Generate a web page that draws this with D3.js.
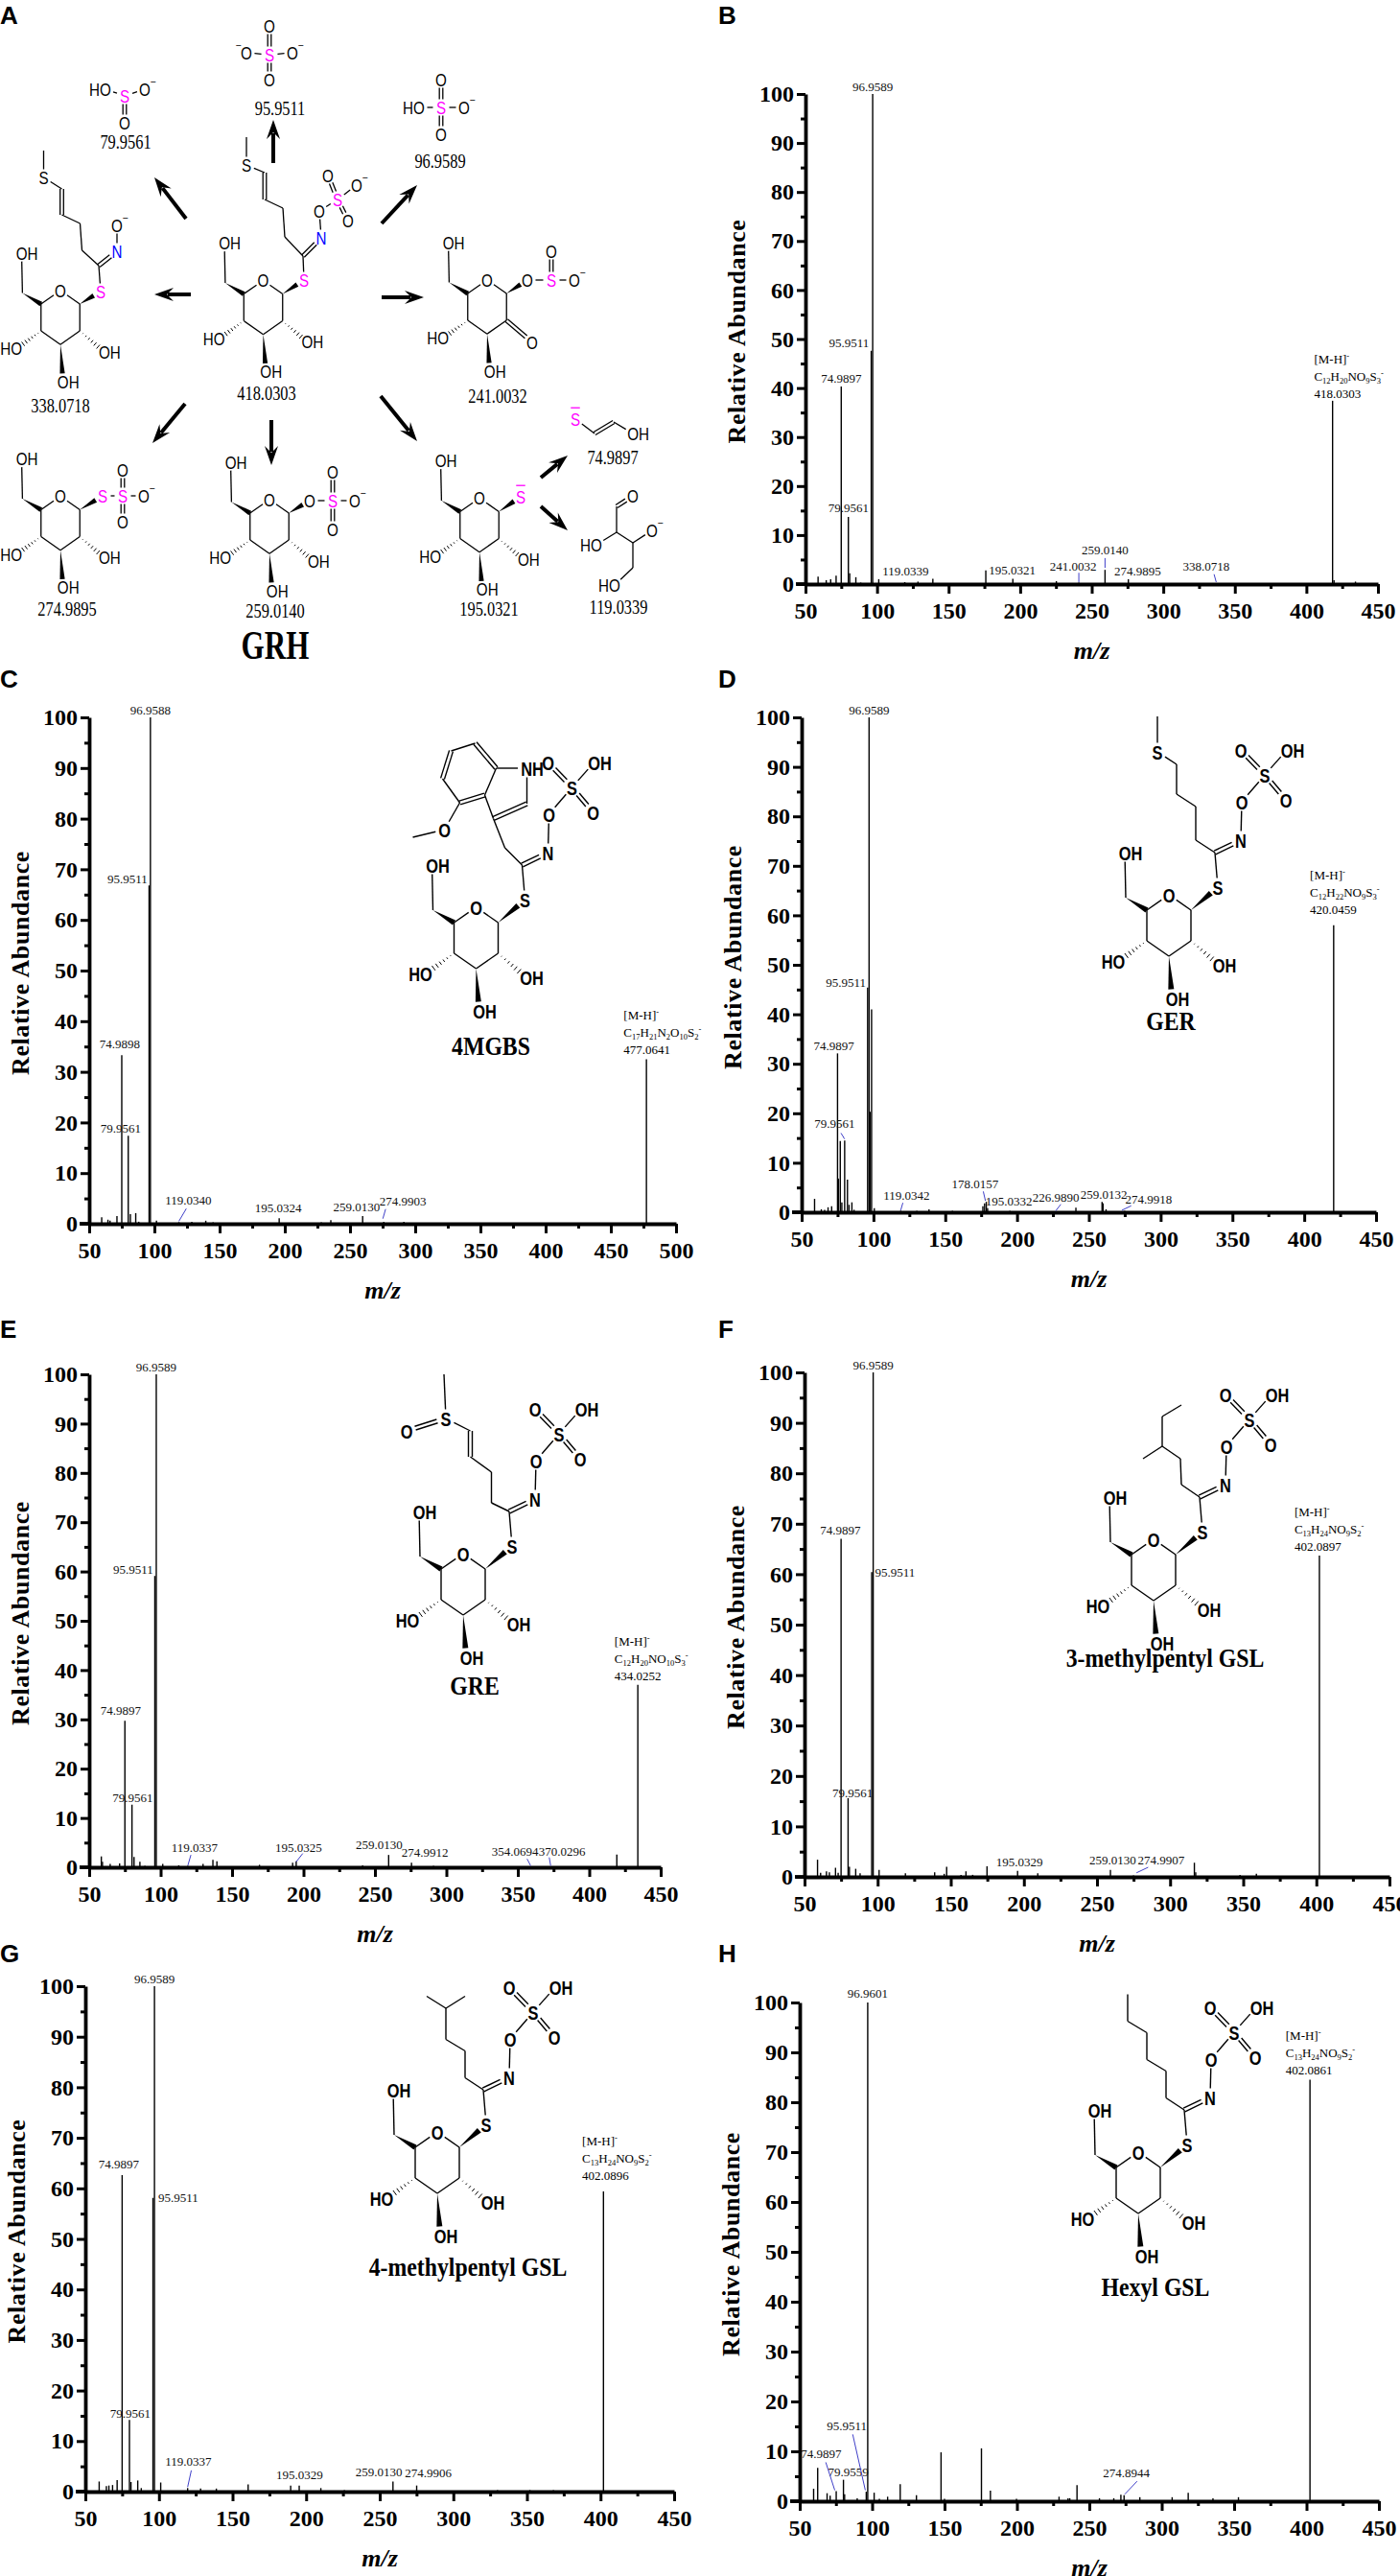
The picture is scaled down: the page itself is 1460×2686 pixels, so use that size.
<!DOCTYPE html>
<html>
<head>
<meta charset="utf-8">
<title>GSL MS/MS spectra</title>
<script src="https://cdnjs.cloudflare.com/ajax/libs/d3/7.8.5/d3.min.js"></script>
<style>
  body { margin: 0; background: #fff; }
  svg { display: block; }
</style>
</head>
<body>
<svg id="fig" width="1460" height="2686"></svg>
<script>
var SERIF = "'Liberation Serif', 'Times New Roman', serif";
var SANS = "'Liberation Sans', Arial, sans-serif";
var MAG = "#ff00ff", BLU = "#0000ff", LEAD = "#3f3fc8";

// ---- axis ticks ----
var yTicks = [0, 10, 20, 30, 40, 50, 60, 70, 80, 90, 100];
var yMinor = [5, 15, 25, 35, 45, 55, 65, 75, 85, 95];
var xTicks450 = [50, 100, 150, 200, 250, 300, 350, 400, 450];
var xMinor450 = [75, 125, 175, 225, 275, 325, 375, 425];
var xTicks500 = [50, 100, 150, 200, 250, 300, 350, 400, 450, 500];
var xMinor500 = [75, 125, 175, 225, 275, 325, 375, 425, 475];

// ---- spectra: [m/z, relative abundance] ----
var peaksB = [[58.8,1.5],[64.5,0.8],[67.6,1.0],[71.4,1.7],[74.99,40.3],[79.96,13.7],[80.9,2.2],[85.2,1.4],[88.6,0.3],
  [95.95,47.6],[96.96,100],[101.2,1.0],[119.4,0.4],[128.6,0.5],[139,1.1],[176,2.8],[194.9,1.1],[225.3,0.6],[241,0.3],
  [259.3,2.9],[275.6,1.0],[337,0.2],[418.3,37.4],[419.3,0.8],[434.3,0.5]];
var peaksC = [[59.6,1.3],[64.4,0.8],[66,0.6],[71.3,1.5],[74.99,33.3],[79.96,17.4],[81.6,1.9],[85.7,2.1],[88,0.4],
  [95.95,66.8],[96.96,100],[101.6,0.6],[118.8,0.3],[128.7,0.4],[139.4,0.6],[145,0.3],[195.7,1.1],[228,0.3],[235.3,0.7],
  [259.7,1.5],[275.9,0.4],[291.3,0.4],[477.3,32.5]];
var peaksD = [[59,2.7],[63.7,0.6],[66,0.5],[68.4,1.0],[70.9,1.2],[74.99,32.1],[75.6,6.8],[76.9,14.4],[78,2.0],[79.96,14.5],
  [81.9,6.6],[83,1.5],[85,2.0],[86.5,0.5],[95.95,45.4],[96.96,100],[97.6,20.3],[98.7,41.0],[100.6,0.8],[119,0.3],
  [130.2,0.3],[138.7,0.6],[155,0.3],[176.2,1.2],[177.4,1.8],[178.6,2.1],[179.5,0.8],[195,0.3],[226.9,0.2],[241,0.9],
  [259.2,2.1],[259.9,1.8],[262,0.6],[275,0.3],[381,0.2],[420.5,58.0]];
var peaksE = [[58.5,2.2],[59.3,1.1],[64.7,0.7],[71.3,0.8],[75,29.7],[79.96,12.7],[81.4,2.1],[85.5,1.1],[89,0.3],
  [95.95,59.1],[96.96,100],[101.5,0.7],[112.7,0.4],[119,0.3],[129.7,0.7],[136.6,1.5],[139.4,1.2],[169.2,0.5],
  [192.4,0.9],[194.9,1.2],[241.4,0.4],[259.6,2.5],[275.6,0.9],[291,0.3],[354,0.2],[370,0.2],[419.3,2.6],[434,37.0]];
var peaksF = [[58.9,3.4],[61,0.8],[65,1.1],[67,0.9],[71.2,1.8],[73,0.8],[75,67.0],[79.8,15.6],[80.7,2.0],[85,1.6],[88,0.7],
  [95.95,60.4],[96.96,100],[101,1.4],[119,0.7],[139,0.9],[145.5,0.6],[147.2,2.0],[157,0.4],[160.4,1.1],[165,0.4],
  [174.8,2.1],[195.7,1.2],[209.5,0.7],[259.2,1.4],[275,0.3],[316.6,2.8],[317.5,0.9],[347.8,0.4],[359,0.6],[402.1,63.7]];
var peaksG = [[59.4,2.0],[64.3,1.1],[66,1.2],[68.5,1.3],[71.6,2.3],[75,62.6],[79.96,14.2],[81,1.9],[85.6,2.2],[88,0.7],
  [95.95,58.1],[96.96,100],[101.2,1.8],[119.5,0.7],[128.3,0.6],[139,0.6],[160.6,1.4],[189.5,1.2],[195.3,1.2],[210,0.7],
  [226,0.3],[259,2.0],[275.1,1.2],[330,0.3],[352,0.3],[368,0.3],[402,59.4]];
var peaksH = [[59.6,2.5],[62.4,6.7],[68.9,1.6],[71,1.1],[75.2,2.0],[80.2,4.3],[81,1.4],[89.7,0.6],[95.95,1.9],[96.96,100],
  [101.4,1.7],[105,0.5],[110.7,0.9],[119.4,3.4],[130.6,1.2],[147.6,9.8],[150,0.5],[175.5,10.6],[181.7,2.1],[199.7,0.5],
  [229.1,0.9],[235.3,0.6],[236.5,0.6],[241.5,3.2],[257,0.6],[266.9,0.6],[271.8,1.3],[274,1.2],[284.9,0.8],[307.2,0.8],
  [318.3,1.7],[335.4,0.6],[353,0.8],[402.4,84.5]];

// ---- peak annotations (text, m/z, abundance of baseline, anchor, leader line) ----
var labelsB = [
  {t:"96.9589", mz:96.96, ab:100.6}, {t:"95.9511", mz:94.4, ab:48.4, a:"end"},
  {t:"74.9897", mz:75, ab:41.0}, {t:"79.9561", mz:80, ab:14.6},
  {t:"119.0339", mz:120, ab:1.7}, {t:"195.0321", mz:194.5, ab:2.0},
  {t:"241.0032", mz:237, ab:2.8, lead:[241,2.3,241,0.4]}, {t:"259.0140", mz:259.3, ab:6.1, lead:[259.3,5.3,259.3,3.3]},
  {t:"274.9895", mz:282, ab:1.7}, {t:"338.0718", mz:330, ab:2.7, lead:[335.5,2.0,337,0.4]}];
var labelsC = [
  {t:"96.9588", mz:96.96, ab:100.6}, {t:"95.9511", mz:94.7, ab:67.3, a:"end"},
  {t:"74.9898", mz:73.5, ab:34.6}, {t:"79.9561", mz:74.1, ab:18.0},
  {t:"119.0340", mz:126, ab:3.8, lead:[124.5,3.0,118.8,0.5]}, {t:"195.0324", mz:195, ab:2.3},
  {t:"259.0130", mz:255, ab:2.4}, {t:"274.9903", mz:290.6, ab:3.6, lead:[277.3,2.9,275.2,1.0]}];
var labelsD = [
  {t:"96.9589", mz:96.96, ab:100.6}, {t:"95.9511", mz:94.8, ab:45.6, a:"end"},
  {t:"74.9897", mz:72.5, ab:32.8}, {t:"79.9561", mz:73, ab:17.0, lead:[77.4,16.0,79.9,14.8]},
  {t:"119.0342", mz:123, ab:2.5, lead:[120.5,1.9,119,0.4]}, {t:"178.0157", mz:170.8, ab:4.8, lead:[176.5,4.2,178,2.3]},
  {t:"195.0332", mz:194.3, ab:1.3}, {t:"226.9890", mz:227, ab:2.1, lead:[230.5,1.6,227,0.3]},
  {t:"259.0132", mz:260.5, ab:2.7}, {t:"274.9918", mz:291.7, ab:1.7, lead:[279.5,1.3,273,0.4]}];
var labelsE = [
  {t:"96.9589", mz:96.96, ab:100.6}, {t:"95.9511", mz:94.8, ab:59.5, a:"end"},
  {t:"74.9897", mz:72, ab:31.0}, {t:"79.9561", mz:80.4, ab:13.3},
  {t:"119.0337", mz:123.7, ab:3.1, lead:[121.2,2.5,119.1,0.4]}, {t:"195.0325", mz:196.5, ab:3.2, lead:[199.5,2.8,194.9,1.1]},
  {t:"259.0130", mz:253, ab:3.6}, {t:"274.9912", mz:285, ab:2.1},
  {t:"354.0694", mz:348, ab:2.3, lead:[356.5,1.7,359,0.3]}, {t:"370.0296", mz:381, ab:2.3, lead:[372,2.0,373,0.3]}];
var labelsF = [
  {t:"96.9589", mz:96.96, ab:100.6}, {t:"95.9511", mz:98.2, ab:59.5, a:"start"},
  {t:"74.9897", mz:74.5, ab:67.8}, {t:"79.9561", mz:82.8, ab:15.8},
  {t:"195.0329", mz:197, ab:2.1}, {t:"259.0130", mz:260.7, ab:2.5},
  {t:"274.9907", mz:293.9, ab:2.5, lead:[285,1.9,277,0.8]}];
var labelsG = [
  {t:"96.9589", mz:96.96, ab:100.6}, {t:"95.9511", mz:99.5, ab:57.3, a:"start"},
  {t:"74.9897", mz:72.8, ab:64.0}, {t:"79.9561", mz:80.5, ab:14.6},
  {t:"119.0337", mz:120, ab:5.1, lead:[122,4.2,119.5,0.9]}, {t:"195.0329", mz:195.6, ab:2.5},
  {t:"259.0130", mz:249.5, ab:3.0}, {t:"274.9906", mz:283, ab:2.8}];
var labelsH = [
  {t:"96.9601", mz:96.96, ab:101}, {t:"95.9511", mz:82.5, ab:14.2, lead:[86.6,13.4,95.3,2.2]},
  {t:"74.9897", mz:64.9, ab:8.6, lead:[68,7.8,74.2,2.2]}, {t:"79.9559", mz:83.5, ab:5.0},
  {t:"274.8944", mz:275.6, ab:4.8, lead:[283,4.0,274.5,1.4]}];

// ---- precursor ions ----
var ionB = {mz:405.4, ab:37.9, formula:"C12H20NO9S3", mass:"418.0303"};
var ionC = {mz:459.8, ab:33.6, formula:"C17H21N2O10S2", mass:"477.0641"};
var ionD = {mz:404, ab:60.2, formula:"C12H22NO9S3", mass:"420.0459"};
var ionE = {mz:417.7, ab:38.0, formula:"C12H20NO10S3", mass:"434.0252"};
var ionF = {mz:385, ab:64.6, formula:"C13H24NO9S2", mass:"402.0897"};
var ionG = {mz:387.5, ab:61.6, formula:"C13H24NO9S2", mass:"402.0896"};
var ionH = {mz:385.6, ab:85.5, formula:"C13H24NO9S2", mass:"402.0861"};

var panels = [
  {key:"B", x0:840, x1:1437, yTop:98, yBase:609, xmax:450, peaks:peaksB, labels:labelsB, ion:ionB, lx:749, ly:25},
  {key:"C", x0:93, x1:705, yTop:748, yBase:1276, xmax:500, peaks:peaksC, labels:labelsC, ion:ionC, lx:0, ly:717},
  {key:"D", x0:836, x1:1435, yTop:748, yBase:1264, xmax:450, peaks:peaksD, labels:labelsD, ion:ionD, lx:749, ly:717},
  {key:"E", x0:93, x1:689, yTop:1433, yBase:1947, xmax:450, peaks:peaksE, labels:labelsE, ion:ionE, lx:0, ly:1395},
  {key:"F", x0:839, x1:1449, yTop:1431, yBase:1957, xmax:450, peaks:peaksF, labels:labelsF, ion:ionF, lx:749, ly:1395},
  {key:"G", x0:89, x1:703, yTop:2071, yBase:2598, xmax:450, peaks:peaksG, labels:labelsG, ion:ionG, lx:0, ly:2046},
  {key:"H", x0:834, x1:1438, yTop:2088, yBase:2608, xmax:450, peaks:peaksH, labels:labelsH, ion:ionH, lx:749, ly:2046}
];

var svg = d3.select("#fig");

function panelLetter(t, x, y) {
  svg.append("text").attr("x", x).attr("y", y).attr("font-family", SANS)
    .attr("font-weight", "bold").attr("font-size", 26).text(t);
}

// condensed text: the figure uses narrow type, so squeeze horizontally
function narrowText(g, x, y, str, fs, sx, anchor, family, weight) {
  return g.append("text").attr("transform", "translate(" + x + "," + y + ") scale(" + sx + ",1)")
    .attr("text-anchor", anchor || "middle").attr("font-family", family || SERIF)
    .attr("font-weight", weight || "normal").attr("font-size", fs).text(str);
}

// sub/superscript text: digits subscript, trailing charge superscript
function richText(t, str, subDigits, charge) {
  var cur = 0;
  str.match(/\d+|\D+/g).forEach(function(tok) {
    var s = (subDigits && /\d/.test(tok)) ? 3 : 0;
    var ts = t.append("tspan").attr("dy", s - cur).text(tok);
    if (s) ts.attr("font-size", 8.5);
    cur = s;
  });
  if (charge) {
    t.append("tspan").attr("dy", -5 - cur).attr("font-size", 8.5).text("-");
    cur = -5;
  }
}

function spectrum(p) {
  var x = d3.scaleLinear().domain([50, p.xmax]).range([p.x0, p.x1]);
  var y = d3.scaleLinear().domain([0, 100]).range([p.yBase, p.yTop]);
  var g = svg.append("g").attr("font-family", SERIF);
  var big = p.xmax === 500;

  g.append("g").selectAll("line").data(p.peaks).join("line")
    .attr("x1", function(d) { return x(d[0]); })
    .attr("x2", function(d) { return x(d[0]); })
    .attr("y1", y(0))
    .attr("y2", function(d) { return y(d[1]); })
    .attr("stroke", "#000").attr("stroke-width", 1.4);

  var gx = g.append("g").attr("transform", "translate(0," + p.yBase + ")")
    .call(d3.axisBottom(x).tickValues(big ? xTicks500 : xTicks450).tickSize(10).tickSizeOuter(0)
      .tickPadding(9).tickFormat(d3.format("d")));
  var gxm = g.append("g").attr("transform", "translate(0," + p.yBase + ")")
    .call(d3.axisBottom(x).tickValues(big ? xMinor500 : xMinor450).tickSize(5).tickSizeOuter(0).tickFormat(""));
  gxm.select(".domain").remove();

  var gy = g.append("g").attr("transform", "translate(" + p.x0 + ",0)")
    .call(d3.axisLeft(y).tickValues(yTicks).tickSize(9).tickSizeOuter(0).tickPadding(3).tickFormat(d3.format("d")));
  var gym = g.append("g").attr("transform", "translate(" + p.x0 + ",0)")
    .call(d3.axisLeft(y).tickValues(yMinor).tickSize(5).tickSizeOuter(0).tickFormat(""));
  gym.select(".domain").remove();

  [gx, gy].forEach(function(a) {
    a.attr("font-family", SERIF).attr("font-size", 24).attr("font-weight", "bold");
    a.select(".domain").attr("stroke-width", 3.8);
    a.selectAll(".tick text").attr("fill", "#000");
  });
  g.selectAll(".tick line").attr("stroke-width", 3);
  g.append("line").attr("x1", p.x0 - 10).attr("x2", p.x0).attr("y1", p.yBase).attr("y2", p.yBase)
    .attr("stroke", "#000").attr("stroke-width", 3.8);

  // peak annotations
  g.append("g").selectAll("text").data(p.labels).join("text")
    .attr("x", function(d) { return x(d.mz); })
    .attr("y", function(d) { return y(d.ab); })
    .attr("text-anchor", function(d) { return d.a || "middle"; })
    .attr("font-size", 13).attr("fill", "#111")
    .text(function(d) { return d.t; });
  g.append("g").selectAll("line").data(p.labels.filter(function(d) { return d.lead; })).join("line")
    .attr("x1", function(d) { return x(d.lead[0]); }).attr("y1", function(d) { return y(d.lead[1]); })
    .attr("x2", function(d) { return x(d.lead[2]); }).attr("y2", function(d) { return y(d.lead[3]); })
    .attr("stroke", LEAD).attr("stroke-width", 1);

  // precursor ion block
  var ix = x(p.ion.mz), iy = y(p.ion.ab);
  richText(g.append("text").attr("x", ix).attr("y", iy - 36).attr("font-size", 13), "[M-H]", false, true);
  richText(g.append("text").attr("x", ix).attr("y", iy - 18).attr("font-size", 13), p.ion.formula, true, true);
  g.append("text").attr("x", ix).attr("y", iy).attr("font-size", 13).text(p.ion.mass);

  // axis titles
  var cy = (p.yTop + p.yBase) / 2 - 8, tx = p.x0 - 63;
  g.append("text").attr("transform", "translate(" + tx + "," + cy + ") rotate(-90)")
    .attr("text-anchor", "middle").attr("font-size", 26).attr("font-weight", "bold")
    .attr("letter-spacing", 0.6).text("Relative Abundance");
  g.append("text").attr("x", (p.x0 + p.x1) / 2).attr("y", p.yBase + 78)
    .attr("text-anchor", "middle").attr("font-size", 26).attr("font-weight", "bold")
    .attr("font-style", "italic").text("m/z");

  panelLetter(p.key, p.lx, p.ly);
}

panels.forEach(spectrum);

// ---------------- structures ----------------
function drawMol(g, ox, oy, atoms, bonds, st) {
  var fs = st.fs, sx = st.sx;
  function P(n) { var a = atoms[n]; return [ox + a[0], oy + a[1]]; }
  function seg(a, c, nx, ny, off) {
    g.append("line").attr("x1", a[0] + nx * off).attr("y1", a[1] + ny * off)
      .attr("x2", c[0] + nx * off).attr("y2", c[1] + ny * off)
      .attr("stroke", "#000").attr("stroke-width", st.lw);
  }
  bonds.forEach(function(b) {
    var p = P(b[0]), q = P(b[1]);
    var dx = q[0] - p[0], dy = q[1] - p[1], L = Math.hypot(dx, dy);
    var ux = dx / L, uy = dy / L, nx = -uy, ny = ux;
    var t1 = atoms[b[0]][2] ? st.trim : 0, t2 = atoms[b[1]][2] ? st.trim : 0;
    var a = [p[0] + ux * t1, p[1] + uy * t1], c = [q[0] - ux * t2, q[1] - uy * t2];
    var type = b[2] || "s";
    if (type === "s") seg(a, c, nx, ny, 0);
    else if (type === "d") { seg(a, c, nx, ny, st.gap); seg(a, c, nx, ny, -st.gap); }
    else if (type === "w") {
      g.append("polygon").attr("fill", "#000")
        .attr("points", [a, [c[0] + nx * st.ww, c[1] + ny * st.ww], [c[0] - nx * st.ww, c[1] - ny * st.ww]]
          .map(function(v) { return v.join(","); }).join(" "));
    } else if (type === "h") {
      for (var i = 1; i <= 6; i++) {
        var f = i / 6, hx = a[0] + (c[0] - a[0]) * f, hy = a[1] + (c[1] - a[1]) * f, h = st.ww * f;
        g.append("line").attr("x1", hx + nx * h).attr("y1", hy + ny * h).attr("x2", hx - nx * h).attr("y2", hy - ny * h)
          .attr("stroke", "#000").attr("stroke-width", 1);
      }
    }
  });
  Object.keys(atoms).forEach(function(n) {
    var at = atoms[n], t = at[2];
    if (!t) return;
    var col = at[3] || "#000", chg = at[4], px = ox + at[0], py = oy + at[1];
    var anchor = "middle", tx = px;
    if (t === "OH" || t === "NH") { anchor = "start"; tx = px - 0.38 * fs * sx; }
    if (t === "HO") { anchor = "end"; tx = px + 0.38 * fs * sx; }
    narrowText(g, tx, py + 0.36 * fs, t, fs, sx, anchor, SANS, st.bold ? "bold" : "normal").attr("fill", col);
    if (chg === "-" || chg === "-l") {
      g.append("text").attr("x", px + (chg === "-" ? 0.45 : -0.45) * fs).attr("y", py - 0.2 * fs)
        .attr("text-anchor", "middle").attr("font-family", SANS).attr("font-size", 0.55 * fs).text("\u2212");
    }
    if (chg === "bar") {
      g.append("line").attr("x1", px - 0.25 * fs).attr("x2", px + 0.25 * fs)
        .attr("y1", py - 0.62 * fs).attr("y2", py - 0.62 * fs).attr("stroke", col).attr("stroke-width", 1.3);
    }
  });
}

var sugarAtoms = {O5:[0,-32,"O"], C1:[23,-16], C2:[23,16], C3:[0,32], C4:[-23,16], C5:[-23,-16],
  C6:[-45,-29], O6:[-46,-76,"OH"], O4:[-52,37,"HO"], O2:[52,41,"OH"], O3:[3,76,"OH"]};
var sugarBonds = [["C5","O5"],["O5","C1"],["C1","C2"],["C2","C3"],["C3","C4"],["C4","C5"],
  ["C6","C5","w"],["C6","O6"],["C4","O4","h"],["C2","O2","h"],["C3","O3","w"]];

function glyco(k, extra, extraBonds, keto) {
  var atoms = {};
  Object.keys(sugarAtoms).forEach(function(n) {
    var a = sugarAtoms[n]; atoms[n] = [a[0] * k, a[1] * k, a[2]];
  });
  var bonds = sugarBonds.slice();
  if (keto) {
    atoms.O2 = [47, 37, "O"];
    bonds = bonds.map(function(b) { return b[1] === "O2" ? ["C2", "O2", "d"] : b; });
  }
  Object.keys(extra).forEach(function(n) { atoms[n] = extra[n]; });
  return {atoms: atoms, bonds: bonds.concat(extraBonds)};
}

// panel A
var stA = {fs:19, sx:0.8, trim:8.5, lw:1.3, gap:1.8, ww:2.6, bold:false};
var gA = svg.append("g");

var grhAgly = {S1:[42.5,-28.5,"S",MAG], C7:[41.5,-53.5], N:[60.5,-72.5,"N",BLU], Ox:[58.5,-100.5,"O"],
  Ss:[77.5,-112.5,"S",MAG], Oa:[67.5,-137.5,"O"], Ob:[97.5,-127.5,"O",null,"-"], Oc:[88.5,-90.5,"O"],
  a:[22.5,-73.5], b:[20.5,-103.5], c:[1.5,-112.5], d:[1.5,-140.5], Sm:[-17.5,-148.5,"S"], Me:[-17.5,-177.5]};
var grhBonds = [["C1","S1","w"],["S1","C7"],["C7","N","d"],["N","Ox"],["Ox","Ss"],["Ss","Oa","d"],["Ss","Ob"],
  ["Ss","Oc","d"],["C7","a"],["a","b"],["b","c"],["c","d","d"],["d","Sm"],["Sm","Me"]];
var m338Agly = {S1:[42,-27,"S",MAG], C7:[40,-54], N:[59,-69,"N",BLU], On:[59,-96,"O",null,"-"],
  a:[22.5,-70], b:[20.5,-98], c:[1.5,-107], d:[1.5,-134], Sm:[-17.5,-146,"S"], Me:[-17.5,-174]};
var m338Bonds = [["C1","S1","w"],["S1","C7"],["C7","N","d"],["N","On"],["C7","a"],["a","b"],["b","c"],
  ["c","d","d"],["d","Sm"],["Sm","Me"]];
var m241Agly = {O1:[42,-28,"O"], Ss:[67,-28,"S",MAG], Om:[91,-28,"O",null,"-"], Ot:[67,-58,"O"]};
var m241Bonds = [["C1","O1","w"],["O1","Ss"],["Ss","Om"],["Ss","Ot","d"]];
var m275Agly = {S1:[44,-28.5,"S",MAG], Ss:[65,-28.5,"S",MAG], Om:[87,-28.5,"O",null,"-"], Ot:[65,-55.5,"O"], Ob:[65,-1.5,"O"]};
var m275Bonds = [["C1","S1","w"],["S1","Ss"],["Ss","Om"],["Ss","Ot","d"],["Ss","Ob","d"]];
var m259Agly = {O1:[42,-27,"O"], Ss:[66,-27,"S",MAG], Om:[89,-27,"O",null,"-"], Ot:[66,-57,"O"], Ob:[66,3,"O"]};
var m259Bonds = [["C1","O1","w"],["O1","Ss"],["Ss","Om"],["Ss","Ot","d"],["Ss","Ob","d"]];
var m195Agly = {S1:[43,-29.5,"S",MAG,"bar"]};
var m195Bonds = [["C1","S1","w"]];

var sugarsA = [
  [274.5, 320.5, grhAgly, grhBonds, false],
  [63, 331, m338Agly, m338Bonds, false],
  [508, 320, m241Agly, m241Bonds, true],
  [63, 545.5, m275Agly, m275Bonds, false],
  [281, 549, m259Agly, m259Bonds, false],
  [500, 547.5, m195Agly, m195Bonds, false]
];
sugarsA.forEach(function(s) {
  var m = glyco(0.88, s[2], s[3], s[4]);
  drawMol(gA, s[0], s[1], m.atoms, m.bonds, stA);
});

// small fragment ions (absolute positions)
var ionsA = [
  [{S:[281,57,"S",MAG], Ot:[281,27,"O"], Ob:[281,83,"O"], Ol:[257,55,"O",null,"-l"], Or:[305,55,"O",null,"-"]},
   [["S","Ot","d"],["S","Ob","d"],["S","Ol"],["S","Or"]]],
  [{HO:[110,93,"HO"], S:[130,100,"S",MAG], Or:[151,93,"O",null,"-"], Ob:[130,128,"O"]},
   [["HO","S"],["S","Or"],["S","Ob","d"]]],
  [{HO:[437,112,"HO"], S:[460,112,"S",MAG], Or:[484,112,"O",null,"-"], Ot:[460,83,"O"], Ob:[460,140,"O"]},
   [["HO","S"],["S","Or"],["S","Ot","d"],["S","Ob","d"]]],
  [{S:[600,437,"S",MAG,"bar"], c1:[620,452], c2:[640,440], O:[660,452,"OH"]},
   [["S","c1"],["c1","c2","d"],["c2","O"]]],
  [{O1:[660,517,"O"], Ca:[643,528], Cb:[643,555], Hb:[622,568,"HO"], Cc:[660,566], Om:[680,553,"O",null,"-"],
    Cd:[660,592], Hd:[641,610,"HO"]},
   [["O1","Ca","d"],["Ca","Cb"],["Cb","Hb"],["Cb","Cc"],["Cc","Om"],["Cc","Cd"],["Cd","Hd"]]]
];
ionsA.forEach(function(m) { drawMol(gA, 0, 0, m[0], m[1], stA); });

var numsA = [["95.9511",292,113],["79.9561",131,148],["96.9589",459,168],["418.0303",278,410],["338.0718",63,423],
  ["241.0032",519,413],["274.9895",70,635],["259.0140",287,637],["195.0321",510,635],["74.9897",639,477],["119.0339",645,633]];
numsA.forEach(function(d) { narrowText(gA, d[1], d[2] + 7, d[0], 20, 0.82); });

narrowText(gA, 287, 687, "GRH", 42, 0.74, "middle", SERIF, "bold");

var arrowsA = [[285,170,285,125],[194,228,161,185],[398,233,435,193],[199,307,161,307],[398,310,442,310],
  [193,421,159,462],[283,438,283,485],[397,413,435,460],[564,498,592,475],[564,528,592,553]];
arrowsA.forEach(function(a) {
  var dx = a[2] - a[0], dy = a[3] - a[1], L = Math.hypot(dx, dy), ux = dx / L, uy = dy / L, nx = -uy, ny = ux;
  var hl = Math.min(18, L * 0.55), hw = 7;
  var bx = a[2] - ux * hl, by = a[3] - uy * hl;
  gA.append("line").attr("x1", a[0]).attr("y1", a[1]).attr("x2", bx + ux * 4).attr("y2", by + uy * 4)
    .attr("stroke", "#000").attr("stroke-width", 4);
  gA.append("polygon").attr("fill", "#000").attr("points", [
    [a[2], a[3]], [bx + nx * hw - ux * 2, by + ny * hw - uy * 2], [bx + ux * 5, by + uy * 5],
    [bx - nx * hw - ux * 2, by - ny * hw - uy * 2]].map(function(v) { return v.join(","); }).join(" "));
});
panelLetter("A", 0, 25);

// inset structures in spectra
var stI = {fs:21, sx:0.78, trim:9.5, lw:1.4, gap:2, ww:3, bold:true};
var gslCore = {S1:[51,-40,"S"], C7:[48,-76], N:[75,-89,"N"], Ox:[76,-129,"O"], Ss:[100,-157,"S"],
  Oa:[75,-183,"O"], Ob:[123,-183,"OH"], Oc:[122,-131,"O"]};
var gslCoreBonds = [["C1","S1","w"],["S1","C7"],["C7","N","d"],["N","Ox"],["Ox","Ss"],["Ss","Oa","d"],["Ss","Ob"],["Ss","Oc","d"]];

// indole side chain of 4MGBS (atom names kept apart from the sugar's C1..C6)
var chain4MGBS = {K:[30,-94], I3:[18,-124.5], I2:[53,-140], N1:[53,-177,"NH"], I7a:[21,-177], I3a:[9,-149],
  B5:[-17,-141], B6:[-35,-166], B1:[-26,-195], B2:[-1,-203], Om:[-33,-113,"O"], Me:[-66,-105]};
var bonds4MGBS = [["C7","K"],["K","I3"],["I3","I2","d"],["I2","N1"],["N1","I7a"],["I7a","I3a"],["I3a","I3"],
  ["I3a","B5","d"],["B5","B6"],["B6","B1","d"],["B1","B2"],["B2","I7a","d"],["B5","Om"],["Om","Me"]];
var chainGER = {a:[28,-89], b:[28,-124], c:[8,-137], d:[8,-168], Sm:[-12,-181,"S"], Me:[-12,-218]};
var bondsGER = [["C7","a"],["a","b"],["b","c"],["c","d"],["d","Sm"],["Sm","Me"]];
var chainGRE = {a:[29.5,-85], b:[29.5,-117], c:[7.5,-133], d:[7.5,-160], Sm:[-18,-173,"S"], Os:[-59,-160,"O"], Me:[-20,-219]};
var bondsGRE = [["C7","a"],["a","b"],["b","c"],["c","d","d"],["d","Sm"],["Sm","Os","d"],["Sm","Me"]];
var chain3MP = {a:[29,-89], b:[28,-116], c:[9,-129], m:[-11,-116], d:[9,-160], e:[29,-172]};
var bonds3MP = [["C7","a"],["a","b"],["b","c"],["c","m"],["c","d"],["d","e"]];
var chain4MP = {a:[29,-88.5], b:[29,-116.5], c:[9,-128.5], d:[9,-161], m1:[-11,-173.5], m2:[29,-173.5]};
var bonds4MP = [["C7","a"],["a","b"],["b","c"],["c","d"],["d","m1"],["d","m2"]];
var chainHex = {a:[29,-88.5], b:[29,-116.5], c:[9,-128.5], d:[9,-156.5], e:[-11,-168.5], f:[-11,-196.5]};
var bondsHex = [["C7","a"],["a","b"],["b","c"],["c","d"],["d","e"],["e","f"]];

var insets = [
  {cx:496.5, cy:978, chain:chain4MGBS, bonds:bonds4MGBS, name:"4MGBS", nx:512, ny:1100},
  {cx:1219, cy:965, chain:chainGER, bonds:bondsGER, name:"GER", nx:1221, ny:1074},
  {cx:483, cy:1652, chain:chainGRE, bonds:bondsGRE, name:"GRE", nx:495, ny:1767},
  {cx:1203, cy:1637, chain:chain3MP, bonds:bonds3MP, name:"3-methylpentyl GSL", nx:1215, ny:1738},
  {cx:456, cy:2255, chain:chain4MP, bonds:bonds4MP, name:"4-methylpentyl GSL", nx:488, ny:2373},
  {cx:1187, cy:2276, chain:chainHex, bonds:bondsHex, name:"Hexyl GSL", nx:1205, ny:2394}
];
insets.forEach(function(s) {
  var extra = {};
  Object.keys(gslCore).forEach(function(n) { extra[n] = gslCore[n]; });
  Object.keys(s.chain).forEach(function(n) { extra[n] = s.chain[n]; });
  var m = glyco(1, extra, gslCoreBonds.concat(s.bonds), false);
  var g = svg.append("g");
  drawMol(g, s.cx, s.cy, m.atoms, m.bonds, stI);
  narrowText(g, s.nx, s.ny, s.name, 27, 0.88, "middle", SERIF, "bold");
});
</script>
</body>
</html>
